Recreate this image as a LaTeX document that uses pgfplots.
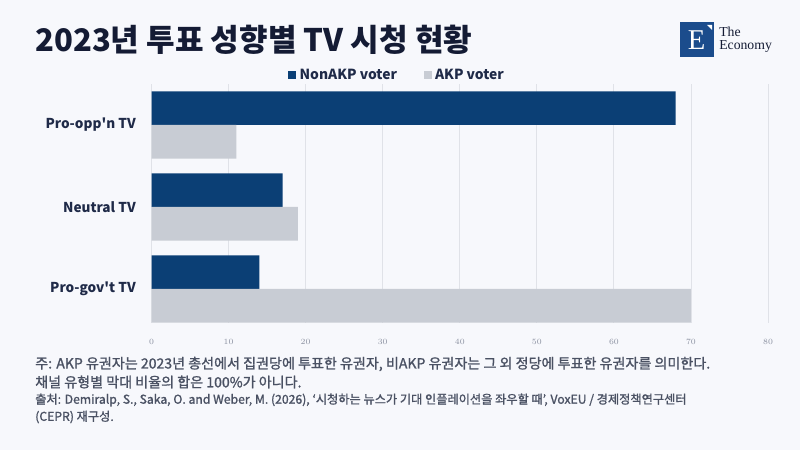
\documentclass[border=0pt]{standalone}
\usepackage{fontspec}
\usepackage{pgfplots}
\pgfplotsset{compat=1.18}
\setmainfont{Noto Sans CJK KR}
\newfontfamily\medfont[FakeBold=1.3]{Noto Sans CJK KR}
\newfontfamily\seriffont{Liberation Serif}
\definecolor{bgc}{HTML}{F7F8FC}
\definecolor{navy}{HTML}{0B3F75}
\definecolor{greyc}{HTML}{C8CCD4}
\definecolor{gridc}{HTML}{E0E2E8}
\definecolor{titlec}{HTML}{141B34}
\definecolor{ylabc}{HTML}{1F2A48}
\definecolor{tickc}{HTML}{8A90A0}
\definecolor{footc}{HTML}{4A5163}
\definecolor{logoc}{HTML}{1B4C8C}
\begin{document}
\begin{tikzpicture}[x=0.75pt,y=0.75pt]
\fill[bgc] (0,0) rectangle (800,450);
\useasboundingbox (0,0) rectangle (800,450);
\node[anchor=west, font=\bfseries\fontsize{23.3}{28}\selectfont, text=titlec, inner sep=0] at (35,410) {2023년 투표 성향별 TV 시청 현황};
% logo
\fill[logoc] (680,393) rectangle (714,428);
\fill[white] (707,425) -- (712,425) -- (712,420) -- cycle;
\node[text=white, font=\seriffont\fontsize{21.5}{21.5}\selectfont, inner sep=0] at (696.5,409.5) {E};
\node[anchor=west, align=left, text=titlec, font=\seriffont\fontsize{10.3}{9.75}\selectfont, inner sep=0] at (719,410.5) {The\\Economy};
\begin{axis}[
  at={(113.625pt,95.25pt)}, anchor=south west, scale only axis,
  width=462.4pt, height=179.25pt,
  xmin=0, xmax=80, ymin=-0.415, ymax=2.5,
  xbar, bar width=0.41,
  ytick={0,1,2}, yticklabels={Pro-gov\textquotesingle t TV, Neutral TV, Pro-opp\textquotesingle n TV},
  xtick={0,10,...,80},
  xmajorgrids, major grid style={draw=gridc, line width=0.6pt},
  axis line style={draw=none}, major tick length=0, tick style={draw=none},
  xticklabel style={font=\fontsize{6}{6}\selectfont, text=tickc, yshift=-9pt},
  yticklabel style={font=\bfseries\fontsize{10.2}{11}\selectfont, text=ylabc, xshift=-8.25pt},
  legend columns=2,
  legend style={at={(0.2214,1.0377)}, anchor=west, draw=none, fill=none, inner sep=0pt,
    font=\bfseries\fontsize{10.4}{12}\selectfont, text=ylabc,
    /tikz/every odd column/.append style={column sep=0.5pt},
    /tikz/every even column/.append style={column sep=18pt},
    nodes={inner sep=2pt}},
  legend image code/.code={\fill[#1] (0pt,-3pt) rectangle (6pt,3pt);},
]
\addplot[fill=navy, draw=none, bar shift=0.205] coordinates {(14,0) (17,1) (68,2)};
\addplot[fill=greyc, draw=none, bar shift=-0.205] coordinates {(70,0) (19,1) (11,2)};
\legend{NonAKP voter, AKP voter}
\end{axis}
\begin{scope}[every node/.style={anchor=west, text=footc, inner sep=0}]
\node[font=\medfont\fontsize{10.55}{12}\selectfont] at (35,86) {주: AKP 유권자는 2023년 총선에서 집권당에 투표한 유권자, 비AKP 유권자는 그 외 정당에 투표한 유권자를 의미한다.};
\node[font=\medfont\fontsize{10.55}{12}\selectfont] at (35,68) {채널 유형별 막대 비율의 합은 100\%가 아니다.};
\node[font=\medfont\fontsize{9.15}{11}\selectfont] at (35,50) {출처: Demiralp, S., Saka, O. and Weber, M. (2026), ‘시청하는 뉴스가 기대 인플레이션을 좌우할 때’, VoxEU / 경제정책연구센터};
\node[font=\medfont\fontsize{9.15}{11}\selectfont] at (35,33) {(CEPR) 재구성.};
\end{scope}
\end{tikzpicture}
\end{document}
